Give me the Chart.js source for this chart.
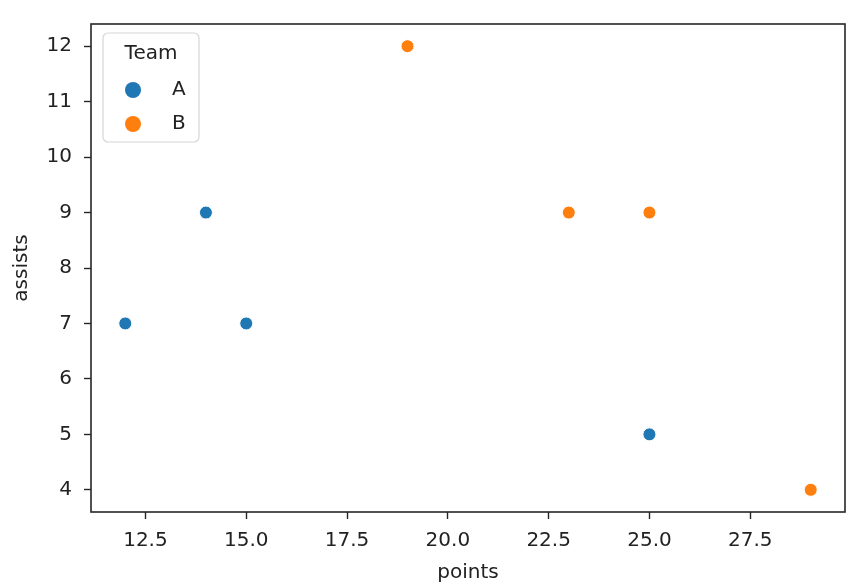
<!DOCTYPE html>
<html>
<head>
<meta charset="utf-8">
<script src="https://cdn.jsdelivr.net/npm/chart.js@4.4.1/dist/chart.umd.min.js"></script>
<style>
  html, body { margin: 0; padding: 0; background: #fff; }
  #wrap { width: 867px; height: 588px; position: relative; }
</style>
</head>
<body>
<div id="wrap"><canvas id="scatterChart"></canvas></div>
<script>
var teamA_points = [12, 14, 15, 25]
var teamA_assists = [7, 9, 7, 5]
var teamB_points = [19, 23, 25, 29]
var teamB_assists = [12, 9, 9, 4]
var xTicks = [12.5, 15.0, 17.5, 20.0, 22.5, 25.0, 27.5]
var yTicks = [4, 5, 6, 7, 8, 9, 10, 11, 12]
var teams = ['A', 'B']
var teamColors = ['#1f77b4', '#ff7f0e']

function toPoints(xs, ys) {
  return xs.map(function (x, i) { return { x: x, y: ys[i] } })
}

var fontFamily = "'DejaVu Sans', sans-serif"
var textColor = '#222222'
var fontSize = 20

// top/right spines plus the legend box with title
var framePlugin = {
  id: 'frame',
  afterDraw: function (chart) {
    var ctx = chart.ctx
    var a = chart.chartArea
    ctx.save()
    ctx.strokeStyle = '#262626'
    ctx.lineWidth = 1.6
    ctx.strokeRect(a.left, a.top, a.right - a.left, a.bottom - a.top)

    var bx = 103, by = 33, bw = 96, bh = 109, r = 5
    ctx.beginPath()
    ctx.roundRect(bx, by, bw, bh, r)
    ctx.fillStyle = 'rgba(255,255,255,0.8)'
    ctx.fill()
    ctx.strokeStyle = '#d6d6d6'
    ctx.lineWidth = 1.2
    ctx.stroke()

    ctx.fillStyle = textColor
    ctx.font = fontSize + 'px ' + fontFamily
    ctx.textBaseline = 'middle'
    ctx.textAlign = 'center'
    ctx.fillText('Team', bx + bw / 2, 54)
    chart.data.datasets.forEach(function (ds, i) {
      var yy = 90 + i * 34
      ctx.beginPath()
      ctx.arc(133, yy, 8, 0, Math.PI * 2)
      ctx.fillStyle = ds.backgroundColor
      ctx.fill()
      ctx.fillStyle = textColor
      ctx.textAlign = 'left'
      ctx.fillText(ds.label, 172, yy)
    })
    ctx.restore()
  }
}

var ctx = document.getElementById('scatterChart').getContext('2d')
var chart = new Chart(ctx, {
  type: 'scatter',
  data: {
    datasets: [
      {
        label: teams[0],
        data: toPoints(teamA_points, teamA_assists),
        backgroundColor: teamColors[0],
        borderColor: '#ffffff',
        borderWidth: 1,
        pointRadius: 6.5,
      },
      {
        label: teams[1],
        data: toPoints(teamB_points, teamB_assists),
        backgroundColor: teamColors[1],
        borderColor: '#ffffff',
        borderWidth: 1,
        pointRadius: 6.5,
      }],
  },
  options: {
    responsive: true,
    maintainAspectRatio: false,
    animation: false,
    layout: { padding: { top: 23, right: 22, left: 0, bottom: 0 } },
    plugins: {
      legend: { display: false },
      tooltip: { enabled: false },
    },
    scales: {
      x: {
        type: 'linear',
        min: 11.15,
        max: 29.85,
        afterBuildTicks: function (scale) {
          scale.ticks = xTicks.map(function (v) { return { value: v } })
        },
        afterFit: function (scale) { scale.height = 76 },
        grid: { display: true, drawOnChartArea: false, tickLength: 7, tickColor: '#262626', tickWidth: 1.4 },
        border: { display: false },
        ticks: {
          color: textColor,
          font: { family: fontFamily, size: fontSize },
          padding: 10,
          maxRotation: 0,
          callback: function (v) { return Number(v).toFixed(1) },
        },
        title: {
          display: true,
          text: 'points',
          color: textColor,
          font: { family: fontFamily, size: fontSize },
          padding: { top: 0, bottom: 3 },
        },
      },
      y: {
        type: 'linear',
        min: 3.6,
        max: 12.4,
        afterBuildTicks: function (scale) {
          scale.ticks = yTicks.map(function (v) { return { value: v } })
        },
        afterFit: function (scale) { scale.width = 91 },
        grid: { display: true, drawOnChartArea: false, tickLength: 7, tickColor: '#262626', tickWidth: 1.4 },
        border: { display: false },
        ticks: {
          color: textColor,
          font: { family: fontFamily, size: fontSize },
          padding: 12,
        },
        title: {
          display: true,
          text: 'assists',
          color: textColor,
          font: { family: fontFamily, size: fontSize },
          padding: { top: 10, bottom: 0 },
        },
      },
    },
  },
  plugins: [framePlugin],
})
</script>
</body>
</html>
